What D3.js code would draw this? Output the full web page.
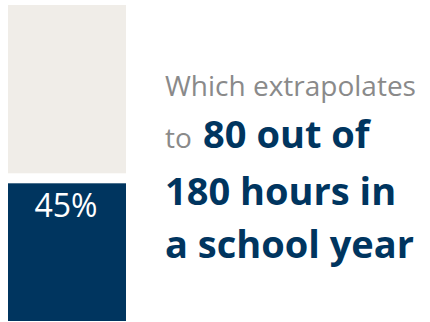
<!DOCTYPE html>
<html>
<head>
<meta charset="utf-8">
<script src="https://cdn.jsdelivr.net/npm/d3@7"></script>
<style>
body { margin: 0; background: #fff; }
svg { display: block; font-family: "Open Sans", sans-serif; }
</style>
</head>
<body>
<svg width="430" height="322"></svg>
<script>
var segments = ["used", "rest"];
var values = [45, 55];
var labels = ["45%", ""];
var colors = ["#00355f", "#f0ede8"];

var lines = [
	[{t: "Which extrapolates", b: false}],
	[{t: "to ", b: false}, {t: "80 out of", b: true}],
	[{t: "180 hours in", b: true}],
	[{t: "a school year", b: true}]
];

function main() {
	var svg = d3.select("svg");
	var gap = 10;

	var x = d3.scaleBand().domain(["hours"]).range([8, 126]).padding(0);
	var y = d3.scaleLinear().domain([0, 100]).range([321, 5 + gap]);

	var start = 0;
	var data = values.map(function(v, i) {
		var d = {key: segments[i], y0: start, y1: start + v, label: labels[i], color: colors[i], off: i * gap};
		start += v;
		return d;
	});

	svg.selectAll(".seg")
		.data(data)
		.enter().append("rect")
		.attr("class", "seg")
		.attr("x", x("hours"))
		.attr("width", x.bandwidth())
		.attr("y", function(d){ return y(d.y1) - d.off; })
		.attr("height", function(d){ return y(d.y0) - y(d.y1); })
		.attr("fill", function(d){ return d.color; });

	svg.selectAll(".lbl")
		.data(data.filter(function(d){ return d.label; }))
		.enter().append("text")
		.attr("class", "lbl")
		.attr("x", x("hours") + x.bandwidth() / 2 - 1)
		.attr("y", function(d){ return y(d.y1) - d.off + 34; })
		.attr("text-anchor", "middle")
		.attr("fill", "#fff")
		.attr("font-size", "32px")
		.text(function(d){ return d.label; });

	var baselines = [96, 148, 205, 258];
	var txt = svg.selectAll(".line")
		.data(lines)
		.enter().append("text")
		.attr("class", "line")
		.attr("x", 165)
		.attr("y", function(d, i){ return baselines[i]; });

	txt.selectAll("tspan")
		.data(function(d){ return d; })
		.enter().append("tspan")
		.attr("dx", function(d, i){ return i > 0 ? 4 : 0; })
		.attr("font-weight", function(d){ return d.b ? 700 : 400; })
		.attr("font-size", function(d){ return d.b ? "38px" : "28px"; })
		.attr("fill", function(d){ return d.b ? "#00355f" : "#8a8a8a"; })
		.text(function(d){ return d.t; });
}
main();
</script>
</body>
</html>
